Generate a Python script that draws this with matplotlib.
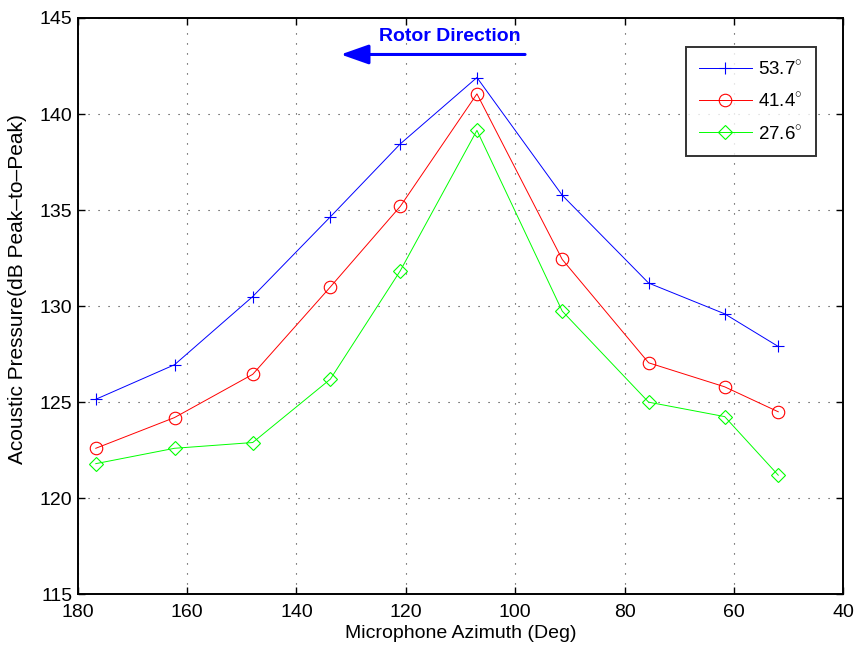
import matplotlib.pyplot as plt

plt.rcParams['font.family'] = ['Liberation Sans', 'DejaVu Sans']
plt.rcParams['mathtext.fontset'] = 'custom'
plt.rcParams['mathtext.rm'] = 'Liberation Sans'

# microphone azimuth (deg)
azimuth = [176.7, 162.3, 148.0, 133.8, 121.0, 107.0, 91.4, 75.6, 61.7, 51.9]

# acoustic pressure for each elevation
p_537 = [125.15, 126.95, 130.5, 134.65, 138.45, 141.9, 135.77, 131.2, 129.6, 127.9]
p_414 = [122.6, 124.2, 126.45, 131.0, 135.2, 141.05, 132.43, 127.05, 125.8, 124.5]
p_276 = [121.8, 122.6, 122.9, 126.2, 131.85, 139.15, 129.74, 125.0, 124.25, 121.2]

labels = ['53.7$^{\\circ}$', '41.4$^{\\circ}$', '27.6$^{\\circ}$']

fig = plt.figure(figsize=(8.58, 6.49), dpi=100)
ax = fig.add_axes([0.0906, 0.0843, 0.8923, 0.888])

ax.plot(azimuth, p_537, color='#0000ff', lw=0.7, marker='+', ms=9, mew=0.8, label=labels[0])
ax.plot(azimuth, p_414, color='#ff0000', lw=0.7, marker='o', ms=9, mfc='none', mew=0.8, label=labels[1])
ax.plot(azimuth, p_276, color='#00ff00', lw=0.7, marker='D', ms=7, mfc='none', mew=0.8, label=labels[2])

ax.set_xlim(180, 40)
ax.set_ylim(115, 145)
ax.set_xticks(range(180, 39, -20))
ax.set_yticks(range(115, 146, 5))
ax.grid(True, color='#333333', linestyle=(0, (1, 8)), linewidth=0.8)
ax.tick_params(direction='in', top=True, right=True, length=5, width=1.0, labelsize=14)
ax.tick_params(axis='x', pad=7)
ax.tick_params(axis='y', pad=4)
for s in ax.spines.values():
    s.set_linewidth(1.4)

ax.set_xlabel('Microphone Azimuth (Deg)', fontsize=14, labelpad=3)
ax.set_ylabel('Acoustic Pressure(dB Peak\u2013to\u2013Peak)', fontsize=15)
ax.yaxis.set_label_coords(-0.066, 0.53)

# rotor direction arrow
ax.annotate('', xy=(131.9, 143.1), xytext=(98.2, 143.1),
            arrowprops=dict(arrowstyle='-|>,head_length=1.7,head_width=0.6', color='#0000ff', lw=2.2,
                            shrinkA=0, shrinkB=0))
ax.text(111.9, 144.05, 'Rotor Direction', color='#0000ff', fontsize=14, fontweight='bold',
        ha='center', va='center')

leg = ax.legend(loc='upper right', bbox_to_anchor=(0.964, 0.950), borderaxespad=0,
                fontsize=13.5, frameon=True, fancybox=False, edgecolor='black',
                handlelength=2.8, borderpad=0.7, labelspacing=0.7, handletextpad=0.35)
leg.get_frame().set_linewidth(1.4)

fig.savefig('out.png', dpi=100)
